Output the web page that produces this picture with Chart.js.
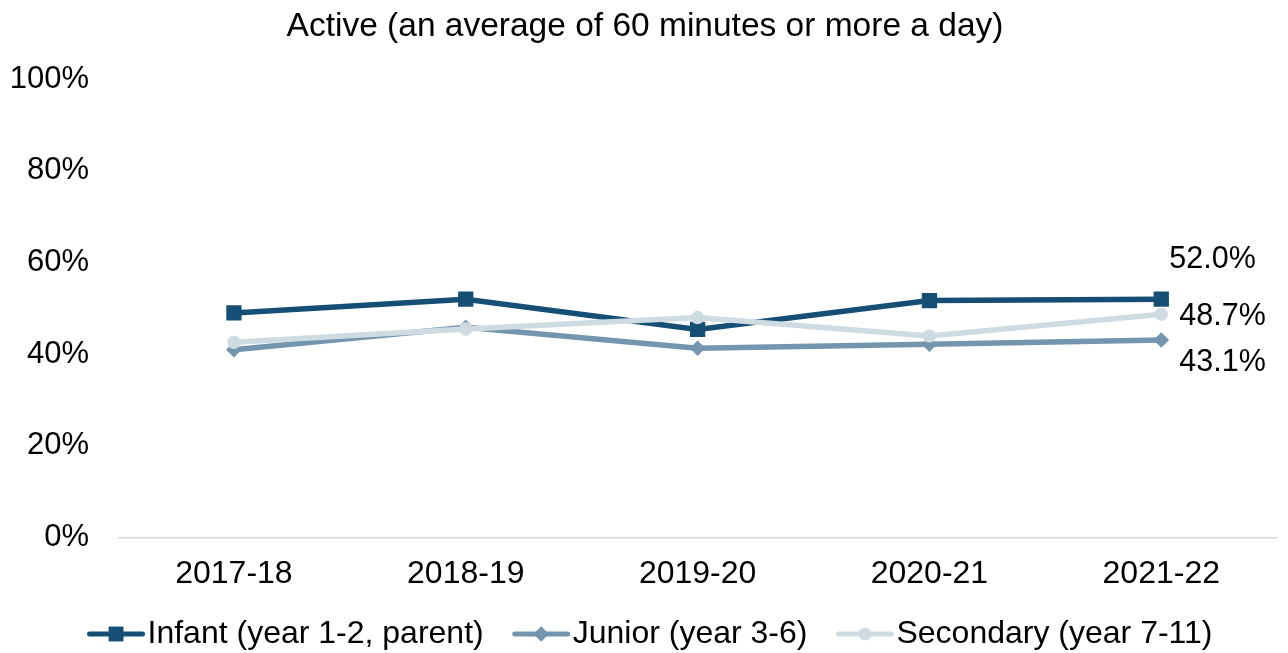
<!DOCTYPE html>
<html><head><meta charset="utf-8">
<script src="https://cdn.jsdelivr.net/npm/chart.js@4/dist/chart.umd.min.js"></script>
<style>html,body{margin:0;padding:0;background:#fff}</style>
</head><body>
<canvas id="c" width="1288" height="653" style="width:1288px;height:653px;display:block"></canvas>
<script>
// ---- data ----
const categories = ['2017-18', '2018-19', '2019-20', '2020-21', '2021-22'];
const infant = [49.0, 52.0, 45.4, 51.7, 52.0];
const junior = [41.0, 45.9, 41.3, 42.2, 43.1];
const secondary = [42.6, 45.5, 48.0, 44.0, 48.7];
const seriesNames = ['Infant (year 1-2, parent)', 'Junior (year 3-6)', 'Secondary (year 7-11)'];
const yTickValues = [0, 20, 40, 60, 80, 100];
const chartTitle = 'Active (an average of 60 minutes or more a day)';

// ---- styles ----
const FONT = '"Liberation Sans", Arial, sans-serif';
const colors = ['#154f75', '#7395ae', '#cfdbe3'];
const pointStyles = ['rect', 'rectRot', 'circle'];
const pointRadii = [10.8, 7.8, 6.7];
const drawOrder = [2, 1, 0];
const endLabelOffsets = [[8, -40], [18, 23], [18, 2]];
const seriesValues = [infant, junior, secondary];

const datasets = seriesValues.map((vals, i) => ({
  label: seriesNames[i],
  data: vals,
  borderColor: colors[i],
  backgroundColor: colors[i],
  pointBackgroundColor: colors[i],
  pointBorderColor: colors[i],
  pointBorderWidth: 0,
  borderWidth: 5.5,
  pointStyle: pointStyles[i],
  pointRadius: pointRadii[i],
  pointHoverRadius: pointRadii[i],
  tension: 0,
  order: drawOrder[i]
}));

const endLabels = {
  id: 'endLabels',
  afterDatasetsDraw(chart) {
    const ctx = chart.ctx;
    ctx.save();
    ctx.font = '30.5px ' + FONT;
    ctx.fillStyle = '#000';
    ctx.textAlign = 'left';
    ctx.textBaseline = 'middle';
    chart.data.datasets.forEach((ds, i) => {
      const meta = chart.getDatasetMeta(i);
      const last = meta.data.length - 1;
      const pt = meta.data[last];
      const v = ds.data[last];
      ctx.fillText(v.toFixed(1) + '%', pt.x + endLabelOffsets[i][0], pt.y + endLabelOffsets[i][1]);
    });
    ctx.restore();
  }
};

const customLegend = {
  id: 'customLegend',
  afterDraw(chart) {
    const ctx = chart.ctx;
    ctx.save();
    ctx.font = '32px ' + FONT;
    const lineLen = 57, gapText = 3, gapItem = 29;
    const widths = seriesNames.map(n => lineLen + gapText + ctx.measureText(n).width);
    const total = widths.reduce((a, b) => a + b, 0) + gapItem * (seriesNames.length - 1);
    let x = (chart.width - total) / 2 + 6;
    const y = 634;
    seriesNames.forEach((name, i) => {
      ctx.strokeStyle = colors[i];
      ctx.fillStyle = colors[i];
      ctx.lineWidth = 5;
      ctx.lineCap = 'round';
      ctx.beginPath();
      ctx.moveTo(x + 2, y);
      ctx.lineTo(x + lineLen - 2, y);
      ctx.stroke();
      Chart.helpers.drawPoint(ctx, {pointStyle: pointStyles[i], radius: pointRadii[i] * 0.95, rotation: 0, borderWidth: 0}, x + lineLen / 2, y);
      ctx.fill();
      ctx.fillStyle = '#000';
      ctx.textAlign = 'left';
      ctx.textBaseline = 'middle';
      ctx.fillText(name, x + lineLen + gapText, y);
      x += widths[i] + gapItem;
    });
    ctx.restore();
  }
};

new Chart(document.getElementById('c'), {
  type: 'line',
  data: { labels: categories, datasets },
  plugins: [endLabels, customLegend],
  options: {
    responsive: false,
    animation: false,
    devicePixelRatio: 1,
    layout: { padding: { left: 12, right: 10, top: 0, bottom: 43 } },
    plugins: {
      legend: { display: false },
      tooltip: { enabled: false },
      title: {
        display: true,
        text: chartTitle,
        color: '#000',
        font: { family: FONT, size: 33.5, weight: 'normal' },
        padding: { top: 7, bottom: 32 }
      }
    },
    scales: {
      x: {
        offset: true,
        grid: { display: false, drawTicks: false },
        border: { display: false },
        ticks: { color: '#000', font: { family: FONT, size: 32 }, padding: 17, maxRotation: 0 }
      },
      y: {
        min: 0, max: 100,
        afterBuildTicks: s => { s.ticks = yTickValues.map(v => ({ value: v })); },
        afterFit: s => { s.width = 106; },
        grid: {
          drawTicks: false,
          color: c => (c.tick && c.tick.value === 0) ? '#d9d9d9' : 'rgba(0,0,0,0)',
          lineWidth: 1.5
        },
        border: { display: false },
        ticks: { color: '#000', font: { family: FONT, size: 31 }, padding: 29, callback: v => v + '%' }
      }
    }
  }
});
</script>
</body></html>
